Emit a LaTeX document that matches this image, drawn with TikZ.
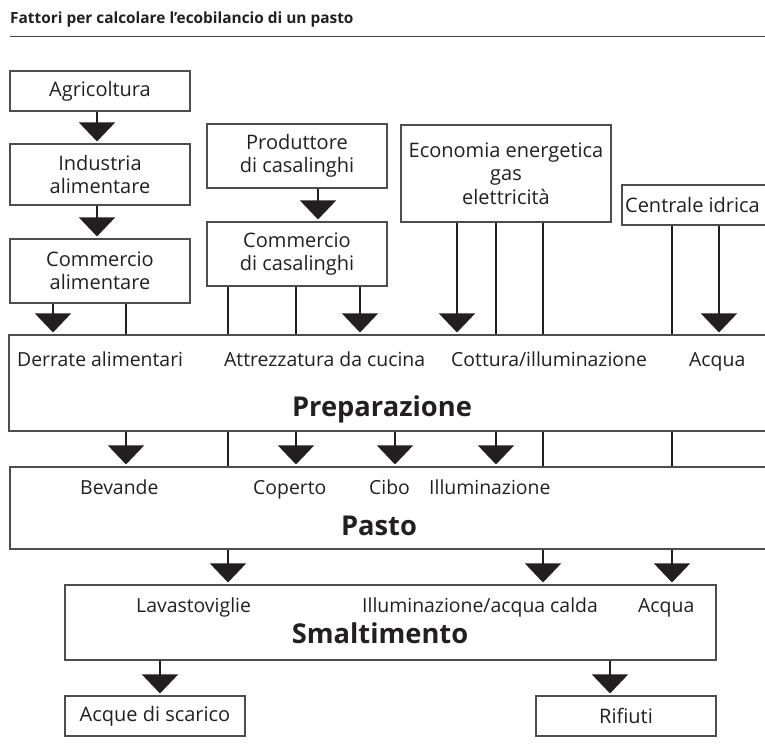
\documentclass[tikz,border=0pt]{standalone}
\usepackage{fontspec}
\setmainfont{Open Sans}
\usetikzlibrary{arrows.meta}
\definecolor{ink}{HTML}{231F20}
\begin{document}
\begin{tikzpicture}[x=1pt,y=-1pt,
  box/.style={draw=ink!80, line width=1.1pt, rectangle, inner sep=0pt, align=center,
    text=ink, font=\fontsize{20}{23.5}\selectfont},
  lbl/.style={anchor=base west, inner sep=0pt, text=ink, font=\fontsize{19.4}{23}\selectfont},
  big/.style={anchor=base, inner sep=0pt, text=ink, font=\fontsize{27.3}{30}\selectfont\bfseries},
  conn/.style={draw=ink, line width=1.4pt},
  arr/.style={conn, -{Triangle[width=36pt,length=19pt]}, shorten >=2pt}]
\clip (0,0) rectangle (765,751);
% title
\node[anchor=base west, inner sep=0pt, text=ink, font=\fontsize{15.4}{18}\selectfont\bfseries]
  (title) at (10,24) {Fattori per calcolare l{\char"0027}ecobilancio di un pasto};
\coordinate (rl) at (10,37);
\coordinate (rr) at (765,37);
\draw[draw=ink!85, line width=1pt] (rl) -- (rr);
% boxes
\newcommand{\mkbox}[6]{\node[box, minimum width={#4-#2}, minimum height={#5-#3}]
  (#1) at ({(#2+#4)/2},{(#3+#5)/2}) {#6};}
\mkbox{agr}{10}{71}{190}{111}{Agricoltura}
\mkbox{ind}{10}{144}{190}{205}{Industria\\alimentare}
\mkbox{coma}{10}{239}{190}{303}{Commercio\\alimentare}
\mkbox{prod}{207}{124}{387}{188}{Produttore\\di casalinghi}
\mkbox{comc}{207}{222}{387}{286}{Commercio\\di casalinghi}
\mkbox{eco}{401}{125}{611}{222}{Economia energetica\\gas\\elettricità}
\mkbox{idr}{622}{185}{768}{225}{\hspace*{-2pt}Centrale idrica\hspace*{3pt}}
\mkbox{prep}{9}{335}{768}{431}{}
\mkbox{pasto}{10}{467}{768}{549}{}
\mkbox{smalt}{65}{585}{716}{660}{}
\mkbox{acq}{65}{696}{245}{736}{Acque di scarico}
\mkbox{rif}{536}{696}{716}{736}{Rifiuti}
% labels
\node[lbl] (l1) at (17,366) {Derrate alimentari};
\node[lbl] (l2) at (224,366) {Attrezzatura da cucina};
\node[lbl] (l3) at (451,366) {Cottura/illuminazione};
\node[lbl] (l4) at (689,366) {Acqua};
\node[big] (tprep) at (382,416) {Preparazione};
\node[lbl] (m1) at (80,494) {Bevande};
\node[lbl] (m2) at (253,494) {Coperto};
\node[lbl] (m3) at (369,494) {Cibo};
\node[lbl] (m4) at (429,494) {Illuminazione};
\node[big] (tpasto) at (379,535) {Pasto};
\node[lbl] (s1) at (136,612) {Lavastoviglie};
\node[lbl] (s2) at (362,612) {Illuminazione/acqua calda};
\node[lbl] (s3) at (638,612) {Acqua};
\node[big] (tsmalt) at (380,643) {Smaltimento};
% connectors: {style}{from}{to}{x}
\foreach \st/\a/\b/\x in {
  arr/agr/ind/97, arr/ind/coma/97,
  arr/coma/prep/53, conn/coma/prep/126, arr/prep/pasto/126,
  arr/prod/comc/318,
  conn/comc/prep/228, conn/prep/pasto/228, arr/pasto/smalt/228,
  conn/comc/prep/296, arr/prep/pasto/296,
  arr/comc/prep/360,
  arr/prep/pasto/395,
  arr/eco/prep/457,
  conn/eco/prep/496, arr/prep/pasto/496,
  conn/eco/prep/543, conn/prep/pasto/543, arr/pasto/smalt/543,
  conn/idr/prep/672, conn/prep/pasto/672, arr/pasto/smalt/672,
  arr/idr/prep/719,
  arr/smalt/acq/160, arr/smalt/rif/610}
{
  \coordinate (cx) at (\x,0);
  \draw[\st] (\a.south -| cx) -- (\b.north -| cx);
}
\end{tikzpicture}
\end{document}
